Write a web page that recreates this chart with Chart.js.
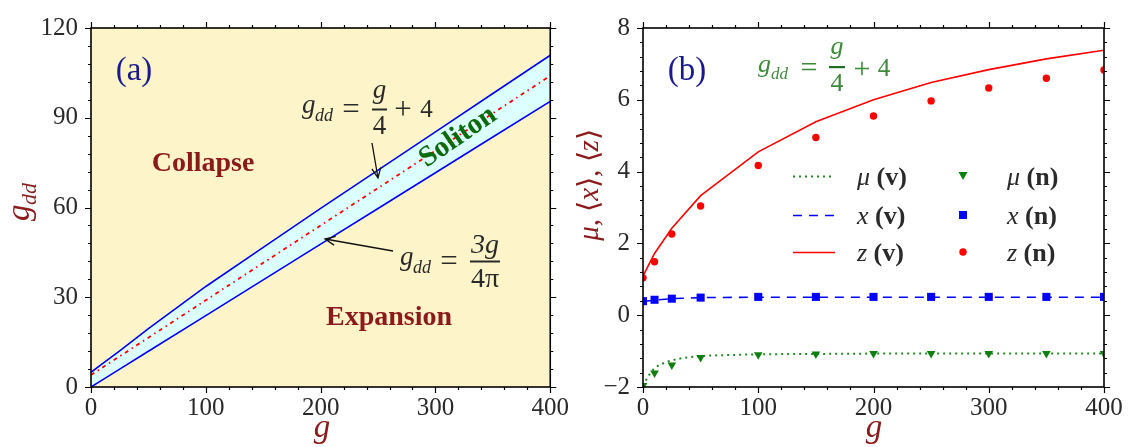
<!DOCTYPE html>
<html lang="en">
<head>
<meta charset="UTF-8">
<title>Soliton phase diagram</title>
<script src="https://cdn.jsdelivr.net/npm/chart.js@4.4.1/dist/chart.umd.min.js"></script>
<style>
	body { margin: 0; background: #fff; }
	canvas { position: absolute; top: 0; }
</style>
</head>
<body>
<canvas id="chartA" width="575" height="447" style="left:0px"></canvas>
<canvas id="chartB" width="558" height="447" style="left:575px"></canvas>

<script>
// ---- panel (a): stability boundaries ----
var gA        = [0, 10, 25, 50, 100, 150, 200, 250, 300, 350, 400];
var upperLine = [4.9, 7.8, 12.1, 19.5, 33.6, 46.7, 59.7, 72.5, 85.3, 98.1, 110.9];
var lowerLine = [0, 2.39, 5.97, 11.94, 23.87, 35.81, 47.75, 59.68, 71.62, 83.56, 95.49];
var midLine   = [4, 6.5, 10.25, 16.5, 29, 41.5, 54, 66.5, 79, 91.5, 104];
var ticksAX = [0, 100, 200, 300, 400];
var ticksAY = [0, 30, 60, 90, 120];

// ---- panel (b): variational (v) and numerical (n) results ----
var gB    = [0, 10, 25, 50, 100, 150, 200, 250, 300, 350, 400];
var zVar  = [1.09, 1.72, 2.42, 3.33, 4.55, 5.39, 6.0, 6.48, 6.84, 7.14, 7.38];
var zNum  = [1.04, 1.49, 2.26, 3.04, 4.17, 4.95, 5.55, 5.97, 6.33, 6.6, 6.83];
var xVar  = [0.38, 0.42, 0.46, 0.49, 0.5, 0.5, 0.5, 0.5, 0.5, 0.5, 0.5];
var xNum  = [0.39, 0.43, 0.46, 0.49, 0.51, 0.51, 0.51, 0.51, 0.51, 0.51, 0.51];
var muNum = [-1.96, -1.61, -1.39, -1.18, -1.1, -1.08, -1.07, -1.07, -1.07, -1.07, -1.07];
var gMu   = [0, 5, 10, 20, 30, 50, 75, 100, 150, 200, 250, 300, 350, 400];
var muVar = [-1.97, -1.68, -1.48, -1.31, -1.22, -1.14, -1.11, -1.09, -1.08, -1.07, -1.07, -1.07, -1.07, -1.07];
var ticksBX = [0, 100, 200, 300, 400];
var ticksBY = [-2, 0, 2, 4, 6, 8];

var OFF_B = 575;
var SERIF = "'Liberation Serif', 'Times New Roman', serif";
var DARKRED = '#8b1a1a';
var NAVY = '#1a1a8c';
var INK = '#2a2a2a';

Chart.defaults.font.family = SERIF;

function fnt(size, italic, bold) {
	return (italic ? 'italic ' : '') + (bold ? 'bold ' : '') + size + 'px ' + SERIF;
}
function pts(xs, ys) {
	return xs.map(function (x, i) { return { x: x, y: ys[i] }; });
}
function txt(ctx, s, x, y, font, color, align, base) {
	ctx.font = font;
	ctx.fillStyle = color;
	ctx.textAlign = align || 'left';
	ctx.textBaseline = base || 'alphabetic';
	ctx.fillText(s, x, y);
}
// run of pieces drawn left to right, returns total width
function run(ctx, pieces, x, y, color, measureOnly) {
	var w = 0;
	ctx.textAlign = 'left';
	ctx.textBaseline = 'alphabetic';
	pieces.forEach(function (p) {
		ctx.font = fnt(p.s, p.i, p.b);
		if (!measureOnly) {
			ctx.fillStyle = color;
			ctx.fillText(p.t, x + w, y + (p.dy || 0));
		}
		w += ctx.measureText(p.t).width;
	});
	return w;
}
function arrow(ctx, x0, y0, x1, y1) {
	var a = Math.atan2(y1 - y0, x1 - x0), L = 11, h = 0.42;
	ctx.save();
	ctx.strokeStyle = '#111';
	ctx.lineWidth = 1.3;
	ctx.beginPath();
	ctx.moveTo(x0, y0); ctx.lineTo(x1, y1);
	ctx.moveTo(x1 - L * Math.cos(a - h), y1 - L * Math.sin(a - h));
	ctx.lineTo(x1, y1);
	ctx.lineTo(x1 - L * Math.cos(a + h), y1 - L * Math.sin(a + h));
	ctx.stroke();
	ctx.restore();
}
// frame with outward major/minor ticks on all four sides
function frame(chart, xStep, xMinor, yStep, yMinor) {
	var ctx = chart.ctx, a = chart.chartArea, sx = chart.scales.x, sy = chart.scales.y;
	ctx.save();
	ctx.strokeStyle = '#000';
	ctx.lineWidth = 1.2;
	ctx.beginPath();
	var n = Math.round((sx.max - sx.min) / xMinor);
	for (var i = 0; i <= n; i++) {
		var v = sx.min + i * xMinor;
		var len = (Math.abs(v / xStep - Math.round(v / xStep)) < 1e-6) ? 6 : 3;
		var px = Math.round(sx.getPixelForValue(v)) + 0.5;
		ctx.moveTo(px, a.bottom); ctx.lineTo(px, a.bottom + len);
		ctx.moveTo(px, a.top); ctx.lineTo(px, a.top - len);
	}
	n = Math.round((sy.max - sy.min) / yMinor);
	for (i = 0; i <= n; i++) {
		v = sy.min + i * yMinor;
		len = (Math.abs(v / yStep - Math.round(v / yStep)) < 1e-6) ? 6 : 3;
		var py = Math.round(sy.getPixelForValue(v)) + 0.5;
		ctx.moveTo(a.left, py); ctx.lineTo(a.left - len, py);
		ctx.moveTo(a.right, py); ctx.lineTo(a.right + len, py);
	}
	ctx.stroke();
	ctx.lineWidth = 1.6;
	ctx.strokeRect(a.left, a.top, a.right - a.left, a.bottom - a.top);
	ctx.restore();
}

function axisOpts(min, max, values, width, height, pad) {
	return {
		type: 'linear', min: min, max: max,
		afterBuildTicks: function (s) { s.ticks = values.map(function (v) { return { value: v }; }); },
		ticks: {
			font: { family: SERIF, size: 25 },
			color: INK,
			padding: pad,
			callback: function (v) { return v < 0 ? '\u2212' + Math.abs(v) : '' + v; }
		},
		grid: { display: false, drawTicks: false },
		border: { display: false },
		afterFit: function (s) {
			if (width) s.width = width;
			if (height) s.height = height;
		}
	};
}

// ---------------- panel (a) ----------------
var panelA = {
	id: 'panelA',
	beforeDraw: function (chart) {
		var a = chart.chartArea, ctx = chart.ctx;
		ctx.save();
		ctx.fillStyle = '#fdf5c9';
		ctx.fillRect(a.left, a.top, a.right - a.left, a.bottom - a.top);
		ctx.restore();
	},
	afterDraw: function (chart) {
		var ctx = chart.ctx;
		frame(chart, 100, 20, 30, 6);
		ctx.save();
		txt(ctx, '(a)', 134, 71, fnt(33, false, false), NAVY, 'center', 'middle');
		txt(ctx, 'Collapse', 203, 164, fnt(28, false, true), DARKRED, 'center', 'middle');
		txt(ctx, 'Expansion', 389, 318, fnt(28, false, true), DARKRED, 'center', 'middle');

		ctx.save();
		ctx.translate(458, 137);
		ctx.rotate(-34.5 * Math.PI / 180);
		txt(ctx, 'Soliton', 0, 0, fnt(29, false, true), '#0b6b0b', 'center', 'middle');
		ctx.restore();

		// g_dd = g/4 + 4
		txt(ctx, 'g', 302, 113, fnt(27, true), INK);
		txt(ctx, 'dd', 315, 121, fnt(18, true), INK);
		txt(ctx, '=', 351, 119, fnt(31), INK, 'center');
		txt(ctx, 'g', 379.5, 98, fnt(27, true), INK, 'center');
		ctx.fillStyle = INK; ctx.fillRect(372, 108.5, 15, 2);
		txt(ctx, '4', 379.5, 134, fnt(27), INK, 'center');
		txt(ctx, '+', 403, 119, fnt(31), INK, 'center');
		txt(ctx, '4', 426.5, 117, fnt(25), INK, 'center');
		arrow(ctx, 372, 143, 378, 178);

		// g_dd = 3g / 4pi
		txt(ctx, 'g', 400, 265, fnt(27, true), INK);
		txt(ctx, 'dd', 413, 273, fnt(18, true), INK);
		txt(ctx, '=', 449, 271, fnt(31), INK, 'center');
		txt(ctx, '3g', 485, 253, fnt(28, true), INK, 'center');
		ctx.fillStyle = INK; ctx.fillRect(470, 260.5, 30, 2);
		txt(ctx, '4\u03c0', 485, 287, fnt(28), INK, 'center');
		arrow(ctx, 393, 251, 325, 239);

		// axis titles
		ctx.save();
		ctx.translate(29, 202);
		ctx.rotate(-Math.PI / 2);
		txt(ctx, 'g', -19, 0, fnt(33, true), DARKRED);
		txt(ctx, 'dd', -3, 7, fnt(22, true), DARKRED);
		ctx.restore();
		txt(ctx, 'g', 322, 437, fnt(33, true), DARKRED, 'center');
		ctx.restore();
	}
};

new Chart(document.getElementById('chartA'), {
	type: 'line',
	data: {
		datasets: [
			{ data: pts(gA, midLine), borderColor: '#ff0000', borderWidth: 1.8, borderDash: [4, 4, 1.5, 4], pointRadius: 0, fill: false },
			{ data: pts(gA, upperLine), borderColor: '#0000ff', borderWidth: 1.6, pointRadius: 0, fill: '+1', backgroundColor: '#dcffff' },
			{ data: pts(gA, lowerLine), borderColor: '#0000ff', borderWidth: 1.6, pointRadius: 0, fill: false }
		]
	},
	options: {
		responsive: false,
		animation: false,
		layout: { padding: { top: 19, right: 23, left: 0, bottom: 0 } },
		plugins: { legend: { display: false }, tooltip: { enabled: false }, filler: { drawTime: 'beforeDatasetsDraw' } },
		scales: {
			x: axisOpts(0, 400, ticksAX, 0, 60, 6),
			y: axisOpts(0, 120, ticksAY, 91, 0, 13)
		}
	},
	plugins: [panelA]
});

// ---------------- panel (b) ----------------
var GREEN = '#1e8c1e';
var legendRows = [
	{ name: '\u03bc', line: { color: GREEN, dash: [2, 4], w: 2 }, mark: 'tri', color: '#0f7f0f' },
	{ name: 'x', line: { color: '#0000ff', dash: [9, 7], w: 1.6 }, mark: 'sq', color: '#0000ff' },
	{ name: 'z', line: { color: '#ff0000', dash: [], w: 1.6 }, mark: 'dot', color: '#ff0000' }
];
var legendY = [176, 215, 252];

var panelB = {
	id: 'panelB',
	afterDraw: function (chart) {
		var ctx = chart.ctx;
		frame(chart, 100, 20, 2, 0.4);
		ctx.save();
		ctx.translate(-OFF_B, 0);
		txt(ctx, '(b)', 687, 71, fnt(33), NAVY, 'center', 'middle');

		// green g_dd = g/4 + 4
		var GEQ = '#3a8a3a';
		txt(ctx, 'g', 758, 72, fnt(26, true), GEQ);
		txt(ctx, 'dd', 771, 79, fnt(17, true), GEQ);
		txt(ctx, '=', 809, 77, fnt(30), GEQ, 'center');
		txt(ctx, 'g', 837, 54, fnt(26, true), GEQ, 'center');
		ctx.fillStyle = '#1e6e1e'; ctx.fillRect(829, 66, 16, 2.2);
		txt(ctx, '4', 837, 91, fnt(26), GEQ, 'center');
		txt(ctx, '+', 862, 78, fnt(30), GEQ, 'center');
		txt(ctx, '4', 884, 76, fnt(25), GEQ, 'center');

		// legend
		legendRows.forEach(function (r, k) {
			var y = legendY[k];
			ctx.save();
			ctx.strokeStyle = r.line.color;
			ctx.lineWidth = r.line.w;
			ctx.setLineDash(r.line.dash);
			ctx.beginPath(); ctx.moveTo(793, y + 0.5); ctx.lineTo(835, y + 0.5); ctx.stroke();
			ctx.restore();
			ctx.fillStyle = r.color;
			ctx.beginPath();
			if (r.mark === 'tri') { ctx.moveTo(958.5, y - 4); ctx.lineTo(967.5, y - 4); ctx.lineTo(963, y + 4); ctx.closePath(); }
			else if (r.mark === 'sq') { ctx.rect(959, y - 4, 8, 8); }
			else { ctx.arc(963, y, 3.7, 0, 2 * Math.PI); }
			ctx.fill();
			run(ctx, [{ t: r.name, s: 26, i: true }, { t: ' (v)', s: 26, b: true }], 857, y + 9, INK);
			run(ctx, [{ t: r.name, s: 26, i: true }, { t: ' (n)', s: 26, b: true }], 1007, y + 9, INK);
		});

		// axis titles
		var lab = [
			{ t: '\u03bc', s: 29, i: true }, { t: ', ', s: 29 },
			{ t: '\u27e8', s: 29 }, { t: 'x', s: 29, i: true }, { t: '\u27e9', s: 29 }, { t: ', ', s: 29 },
			{ t: '\u27e8', s: 29 }, { t: 'z', s: 29, i: true }, { t: '\u27e9', s: 29 }
		];
		ctx.save();
		ctx.translate(598, 185);
		ctx.rotate(-Math.PI / 2);
		var w = run(ctx, lab, 0, 0, DARKRED, true);
		run(ctx, lab, -w / 2, 0, DARKRED);
		ctx.restore();
		txt(ctx, 'g', 874, 437, fnt(33, true), DARKRED, 'center');
		ctx.restore();
	}
};

new Chart(document.getElementById('chartB'), {
	type: 'line',
	data: {
		datasets: [
			{ data: pts(gB, zNum), showLine: false, pointStyle: 'circle', pointRadius: 3.7, pointBackgroundColor: '#ff0000', pointBorderWidth: 0 },
			{ data: pts(gB, xNum), showLine: false, pointStyle: 'rect', pointRadius: 5.7, pointBackgroundColor: '#0000ff', pointBorderWidth: 0 },
			{ data: pts(gB, muNum), showLine: false, pointStyle: 'triangle', pointRotation: 180, pointRadius: 5, pointBackgroundColor: '#0f7f0f', pointBorderWidth: 0 },
			{ data: pts(gB, zVar), borderColor: '#ff0000', borderWidth: 1.6, pointRadius: 0, fill: false },
			{ data: pts(gB, xVar), borderColor: '#0000ff', borderWidth: 1.6, borderDash: [9, 7], pointRadius: 0, fill: false },
			{ data: pts(gMu, muVar), borderColor: GREEN, borderWidth: 2, borderDash: [2, 4], pointRadius: 0, fill: false, cubicInterpolationMode: 'monotone' }
		]
	},
	options: {
		responsive: false,
		animation: false,
		layout: { padding: { top: 19, right: 29, left: 0, bottom: 0 } },
		plugins: { legend: { display: false }, tooltip: { enabled: false } },
		scales: {
			x: axisOpts(0, 400, ticksBX, 0, 60, 6),
			y: axisOpts(-2, 8, ticksBY, 68, 0, 13)
		}
	},
	plugins: [panelB]
});
</script>
</body>
</html>
